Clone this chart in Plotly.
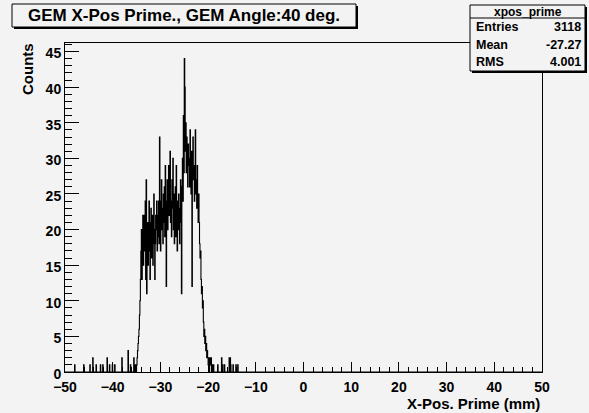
import numpy as np
import plotly.graph_objects as go

# Histogram binning: 1000 bins of 0.1 mm over [-50, 50]
XMIN, XMAX, NBINS = -50.0, 50.0, 1000

# Bin contents of the main peak, one value per 0.1 mm bin starting at -35.0 mm
CORE_START = -35.0
core_counts = [
    1, 2, 3, 4, 5, 6, 8, 10, 13, 17,
    20, 13, 18, 22, 15, 20, 22, 17, 24, 13,
    27, 11, 19, 21, 15, 20, 24, 17, 13, 21,
    23, 16, 19, 22, 15, 18, 25, 20, 13, 18,
    22, 20, 24, 17, 22, 19, 24, 18, 33, 21,
    17, 24, 27, 20, 23, 18, 25, 21, 26, 19,
    29, 22, 12, 24, 27, 20, 25, 29, 22, 26,
    31, 21, 24, 19, 27, 23, 30, 20, 25, 18,
    22, 26, 19, 29, 21, 17, 24, 20, 25, 22,
    18, 23, 27, 21, 11, 26, 30, 24, 36, 28,
    44, 40, 31, 35, 28, 33, 30, 26, 32, 29,
    30, 26, 34, 28, 25, 31, 12, 28, 33, 27,
    29, 24, 28, 34, 25, 27, 23, 29, 24, 21,
    25, 21, 18, 16, 17, 13, 11, 12, 9, 10,
    7, 5, 6, 4, 5, 3, 4, 2, 3, 2,
    1, 2, 0, 1, 2, 1, 2, 0, 1,
]

# Sparse single bins in the tails (bin low edge in mm, count)
tail_left_pos = [-48.0, -46.1, -44.8, -44.2, -43.5, -42.6, -42.1, -41.2,
                 -40.7, -40.1, -39.6, -38.1, -36.8, -36.3, -35.6, -35.3]
tail_left_counts = [1, 1, 1, 2, 1, 1, 1, 2, 1, 1, 1, 2, 3, 1, 2, 1]
tail_right_pos = [-18.9, -18.0, -17.2, -17.0, -16.6, -15.6, -15.4, -15.3,
                  -14.8, -14.2, -13.8]
tail_right_counts = [1, 1, 2, 1, 1, 2, 2, 1, 1, 1, 1]

# Statistics box contents
stat_name = "xpos_prime"
stat_labels = ["Entries", "Mean", "RMS"]
stat_values = ["3118", "-27.27", "4.001"]

title_text = "GEM X-Pos Prime., GEM Angle:40 deg."
x_title = "X-Pos. Prime (mm)"
y_title = "Counts"

# ---- fill the histogram ----
bw = (XMAX - XMIN) / NBINS
counts = np.zeros(NBINS)
i0 = int(round((CORE_START - XMIN) / bw))
counts[i0:i0 + len(core_counts)] = core_counts
for p, c in zip(tail_left_pos + tail_right_pos, tail_left_counts + tail_right_counts):
    counts[int(round((p - XMIN) / bw))] += c

edges = XMIN + bw * np.arange(NBINS + 1)
ys = np.append(counts, counts[-1])
ymax = counts.max() * 1.05

BG = "#f3f3f3"
FONT = "Liberation Sans, Arial, Helvetica, sans-serif"
W, H = 589, 413
PL, PR, PT, PB = 65, 542, 43, 372


def px(v):
    return (v - PL) / (PR - PL)


def py(v):
    return (PB - v) / (PB - PT)


fig = go.Figure()
fig.add_trace(go.Scatter(
    x=edges, y=ys, mode="lines",
    line=dict(color="black", width=1.1, shape="hv"),
    hoverinfo="skip", showlegend=False,
))

tickfont = dict(family=FONT, size=14, color="black", weight="bold")
fig.update_xaxes(
    range=[XMIN, XMAX], tickmode="array", tickvals=list(range(-50, 51, 10)),
    ticks="inside", ticklen=10, tickcolor="black", tickwidth=1,
    minor=dict(dtick=2, ticks="inside", ticklen=5, tickcolor="black"),
    showline=True, linecolor="black", linewidth=1, mirror=True,
    showgrid=False, zeroline=False, tickfont=tickfont, ticklabelstandoff=2,
)
fig.update_yaxes(
    range=[0, ymax], tickmode="array", tickvals=list(range(0, 46, 5)),
    ticks="inside", ticklen=14, tickcolor="black", tickwidth=1,
    minor=dict(dtick=1, ticks="inside", ticklen=7, tickcolor="black"),
    showline=True, linecolor="black", linewidth=1, mirror=True,
    showgrid=False, zeroline=False, tickfont=tickfont, ticklabelshift=2,
)

shapes = []


def pave(x0, y0, x1, y1):
    # shadowed box in the ROOT style
    shapes.append(dict(type="rect", xref="paper", yref="paper",
                       x0=px(x0 + 2), x1=px(x1 + 2), y0=py(y1 + 2), y1=py(y0 + 2),
                       fillcolor="black", line=dict(width=0), layer="above"))
    shapes.append(dict(type="rect", xref="paper", yref="paper",
                       x0=px(x0), x1=px(x1), y0=py(y1), y1=py(y0),
                       fillcolor=BG, line=dict(color="black", width=1), layer="above"))


pave(12, 4, 356, 27)
pave(470, 5, 585, 71)
shapes.append(dict(type="line", xref="paper", yref="paper",
                   x0=px(470), x1=px(585), y0=py(18), y1=py(18),
                   line=dict(color="black", width=1), layer="above"))

ann = []
ann.append(dict(text=title_text, x=px(184), y=py(16), xref="paper", yref="paper",
                showarrow=False, xanchor="center", yanchor="middle",
                font=dict(family=FONT, size=17, color="black", weight="bold")))
ann.append(dict(text=stat_name, x=px(527.5), y=py(11.5), xref="paper", yref="paper",
                showarrow=False, xanchor="center", yanchor="middle",
                font=dict(family=FONT, size=12, color="black", weight="bold")))
for k, (lab, val) in enumerate(zip(stat_labels, stat_values)):
    yc = 27 + 17.5 * k
    ann.append(dict(text=lab, x=px(474), y=py(yc), xref="paper", yref="paper",
                    showarrow=False, xanchor="left", yanchor="middle",
                    font=dict(family=FONT, size=12.5, color="black", weight="bold")))
    ann.append(dict(text=val, x=px(583), y=py(yc), xref="paper", yref="paper",
                    showarrow=False, xanchor="right", yanchor="middle",
                    font=dict(family=FONT, size=12.5, color="black", weight="bold")))
ann.append(dict(text=x_title, x=px(542), y=py(403.5), xref="paper", yref="paper",
                showarrow=False, xanchor="right", yanchor="middle",
                font=dict(family=FONT, size=15, color="black", weight="bold")))
ann.append(dict(text=y_title, x=px(28), y=py(69), xref="paper", yref="paper",
                showarrow=False, xanchor="center", yanchor="middle", textangle=-90,
                font=dict(family=FONT, size=15, color="black", weight="bold")))

fig.update_layout(
    width=W, height=H, margin=dict(l=PL, r=W - PR, t=PT, b=H - PB),
    paper_bgcolor=BG, plot_bgcolor=BG, shapes=shapes, annotations=ann,
    showlegend=False,
)
fig.write_html("out.html")
